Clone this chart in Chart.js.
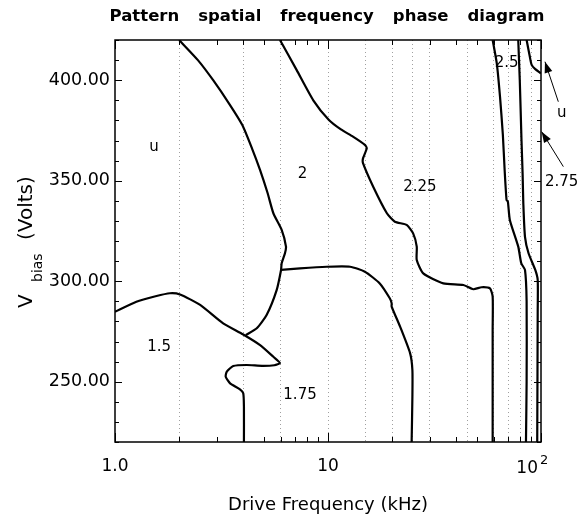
<!DOCTYPE html>
<html><head><meta charset="utf-8">
<script src="https://cdn.jsdelivr.net/npm/chart.js@4/dist/chart.umd.min.js"></script>
<style>html,body{margin:0;padding:0;background:#fff}</style>
</head><body>
<canvas id="c" width="587" height="522"></canvas>
<script>
// ---------- data ----------
const titleText = 'Pattern spatial frequency phase diagram';
const xTitle = 'Drive Frequency (kHz)';
const xTickValues = [1,2,3,4,5,6,7,8,9,10,20,30,40,50,60,70,80,90,100];
const xMajorTicks = [1,10,100];
const xTickLabels = ['1.0','10','10'];   // last one gets superscript 2
const yTickValues = [220,230,240,250,260,270,280,290,300,310,320,330,340,350,360,370,380,390,400,410,420];
const yMajorTicks = [250,300,350,400];
const gridFreqs = [2,4,6,10,15,20,25,30,45,60,70,80,90];

// contour lines [frequency kHz, Vbias V]
const lineA = [[2.0,420],[2.45,410],[2.89,400],[3.45,388],[3.96,377.7],[4.4,366],[4.8,355.3],[5.2,344],[5.54,333.8],[6.06,325.5],[6.35,317.2],[6.28,313.9],[6.06,308.9],[6.02,305.6],[5.74,295.6],[5.15,283.2],[4.63,276.6],[4.11,273.2]];
const lineB = [[1.0,284.8],[1.26,289.8],[1.55,292.5],[1.81,294],[2.02,293.4],[2.51,288.2],[3.22,279],[4.0,273.5],[4.8,268.2],[5.54,262.4],[5.95,259.3],[5.6,258.2],[4.9,257.9],[4.15,258.3],[3.59,257.8],[3.35,255],[3.31,252.5],[3.47,249.2],[3.86,246.2],[4.0,244.2],[4.03,237.6],[4.03,220]];
const lineC = [[6.02,305.6],[7.39,306.4],[9.86,307.2],[12.7,307.2],[14.9,304.7],[17.5,298.9],[19.5,291.5],[19.9,289],[19.9,287.4],[21.8,277.4],[24.3,264.1],[24.9,255.8],[24.9,242.5],[24.7,220]];
const lineD = [[5.95,420],[7.13,405],[8.53,390],[10.1,380.2],[11.5,375.5],[13.1,371.9],[14.9,367.8],[15.2,366.1],[14.6,361.1],[14.6,358.7],[16.3,347],[18.9,333.8],[20.6,329.6],[23.4,328],[25.1,323.8],[26.1,317.2],[26.1,310.5],[28.0,303.9],[34.8,298.9],[43.2,298.1],[48.1,296],[52.6,297],[57.6,296.4],[59.3,292.3],[59.3,275.6],[59.3,220]];
const lineE = [[59.3,420],[62,408.4],[64.2,391.8],[66.2,373],[67.5,355.3],[68.9,340.4],[69.9,339.6],[71.4,330.5],[78.2,317.2],[80.8,308.9],[84.1,305.6],[85.6,290],[85.6,250],[85,220]];
const lineF = [[78.2,420],[79.5,400],[81,370],[82,353],[82.6,338.8],[84.1,322.1],[87.4,313.9],[94,305.6],[96.5,300.6],[96.5,285],[96,220]];
const lineG = [[85.6,420],[88.5,412],[90.4,407.6],[94,405.5],[100,403.4]];

// arrows [tail, tip]
const arrowU = [[120.6,389.3],[104.4,409.2]];
const arrow275 = [[127.3,357],[100.7,374.4]];

// region labels
const regionText = ['u','2','2.25','2.5','1.5','1.75','u','2.75'];
const regionFreq = [1.524,7.6,27.0,69,1.61,7.39,125,125];
const regionVolt = [366.9,353.3,347,408.4,267.4,243.4,383.6,349.5];

// ---------- chart ----------
const toPts = a => a.map(p => ({x:p[0], y:p[1]}));
const FONT = 'DejaVu Sans';

const contourSets = [lineA,lineB,lineC,lineD,lineE,lineF,lineG].map(l => ({
  data: toPts(l), borderColor:'#000', borderWidth:2.2, pointRadius:0, tension:0.2, fill:false
}));
const arrowSets = [arrowU, arrow275].map(l => ({
  data: toPts(l), borderColor:'#000', borderWidth:1, pointRadius:0, tension:0, fill:false, clip:false, isArrow:true
}));

const decor = {
  id:'decor',
  afterDatasetsDraw(chart){
    const {ctx, chartArea:a, scales} = chart;
    const xs = scales.x, ys = scales.y;
    ctx.save();
    // frame
    ctx.strokeStyle='#000'; ctx.lineWidth=1.5;
    ctx.strokeRect(a.left, a.top, a.right-a.left, a.bottom-a.top);
    // inward ticks
    ctx.lineWidth=1;
    ctx.beginPath();
    xTickValues.forEach(v => {
      const px = Math.round(xs.getPixelForValue(v))+0.5;
      const L = xMajorTicks.includes(v) ? 9 : 5;
      ctx.moveTo(px, a.bottom); ctx.lineTo(px, a.bottom-L);
      ctx.moveTo(px, a.top); ctx.lineTo(px, a.top+L);
    });
    yTickValues.forEach(v => {
      const py = Math.round(ys.getPixelForValue(v))+0.5;
      const L = yMajorTicks.includes(v) ? 7 : 4;
      ctx.moveTo(a.left, py); ctx.lineTo(a.left+L, py);
      ctx.moveTo(a.right, py); ctx.lineTo(a.right-L, py);
    });
    ctx.stroke();
    // arrowheads
    chart.data.datasets.forEach((ds,i) => {
      if(!ds.isArrow) return;
      const m = chart.getDatasetMeta(i).data;
      const t = m[0], h = m[1];
      const ang = Math.atan2(h.y-t.y, h.x-t.x);
      const len=11, hw=4;
      ctx.beginPath();
      ctx.moveTo(h.x, h.y);
      ctx.lineTo(h.x - len*Math.cos(ang) + hw*Math.sin(ang), h.y - len*Math.sin(ang) - hw*Math.cos(ang));
      ctx.lineTo(h.x - len*Math.cos(ang) - hw*Math.sin(ang), h.y - len*Math.sin(ang) + hw*Math.cos(ang));
      ctx.closePath(); ctx.fillStyle='#000'; ctx.fill();
    });
    // region labels
    ctx.fillStyle='#000'; ctx.font='15px '+FONT; ctx.textAlign='center'; ctx.textBaseline='middle';
    regionText.forEach((t,i) => {
      ctx.fillText(t, xs.getPixelForValue(regionFreq[i]), ys.getPixelForValue(regionVolt[i]));
    });
    // 10^2 label
    const p100 = xs.getPixelForValue(100);
    ctx.font='17px '+FONT; ctx.textAlign='right'; ctx.textBaseline='alphabetic';
    ctx.fillText(xTickLabels[2], p100-3, a.bottom+31);
    ctx.font='13px '+FONT; ctx.textAlign='left';
    ctx.fillText('2', p100-1, a.bottom+22);
    // title
    ctx.font='bold 16.5px '+FONT;
    const words = titleText.split(' '); const gap=19;
    const widths = words.map(w=>ctx.measureText(w).width);
    const total = widths.reduce((s,w)=>s+w,0)+gap*(words.length-1);
    let x0 = 327 - total/2;
    ctx.textAlign='left';
    words.forEach((w,i)=>{ ctx.fillText(w, x0, 21); x0 += widths[i]+gap; });
    // x title
    ctx.font='18px '+FONT; ctx.textAlign='center';
    ctx.fillText(xTitle, (a.left+a.right)/2, 510);
    // y title with subscript
    ctx.translate(32, 308); ctx.rotate(-Math.PI/2);
    ctx.textAlign='left';
    ctx.font='20px '+FONT; ctx.fillText('V', 0, 0);
    ctx.font='14px '+FONT; ctx.fillText('bias', 26, 10);
    ctx.font='20px '+FONT; ctx.fillText('(Volts)', 68, 0);
    ctx.restore();
  }
};

new Chart(document.getElementById('c'), {
  type:'line',
  data:{ datasets:[...contourSets, ...arrowSets] },
  plugins:[decor],
  options:{
    responsive:false, animation:false, devicePixelRatio:1,
    layout:{ padding:{top:40, right:46, left:0, bottom:0} },
    plugins:{ legend:{display:false}, title:{display:false}, tooltip:{enabled:false} },
    scales:{
      x:{ type:'logarithmic', min:1, max:100, position:'bottom',
          afterBuildTicks: s => { s.ticks = xTickValues.map(v => ({value:v})); },
          afterFit: s => { s.height = 80; },
          grid:{display:false, drawTicks:false}, border:{display:false},
          ticks:{ autoSkip:false, maxRotation:0, padding:14, color:'#000', font:{family:FONT, size:17},
                  callback: v => { const k = xMajorTicks.indexOf(v); return (k===0||k===1) ? xTickLabels[k] : ''; } } },
      xg:{ type:'logarithmic', min:1, max:100, position:'top', display:true,
          afterBuildTicks: s => { s.ticks = gridFreqs.map(v => ({value:v})); },
          afterFit: s => { s.height = 0; },
          grid:{display:true, drawTicks:false, color:'#a0a0a0', lineWidth:1}, border:{display:false, dash:[1,3]},
          ticks:{display:false} },
      y:{ type:'linear', min:220, max:420, position:'left',
          afterBuildTicks: s => { s.ticks = yTickValues.map(v => ({value:v})); },
          afterFit: s => { s.width = 115; },
          grid:{display:false, drawTicks:false}, border:{display:false},
          ticks:{ autoSkip:false, padding:5, color:'#000', font:{family:FONT, size:17.5},
                  callback: v => yMajorTicks.includes(v) ? v.toFixed(2) : '' } }
    }
  }
});
</script>
</body></html>
